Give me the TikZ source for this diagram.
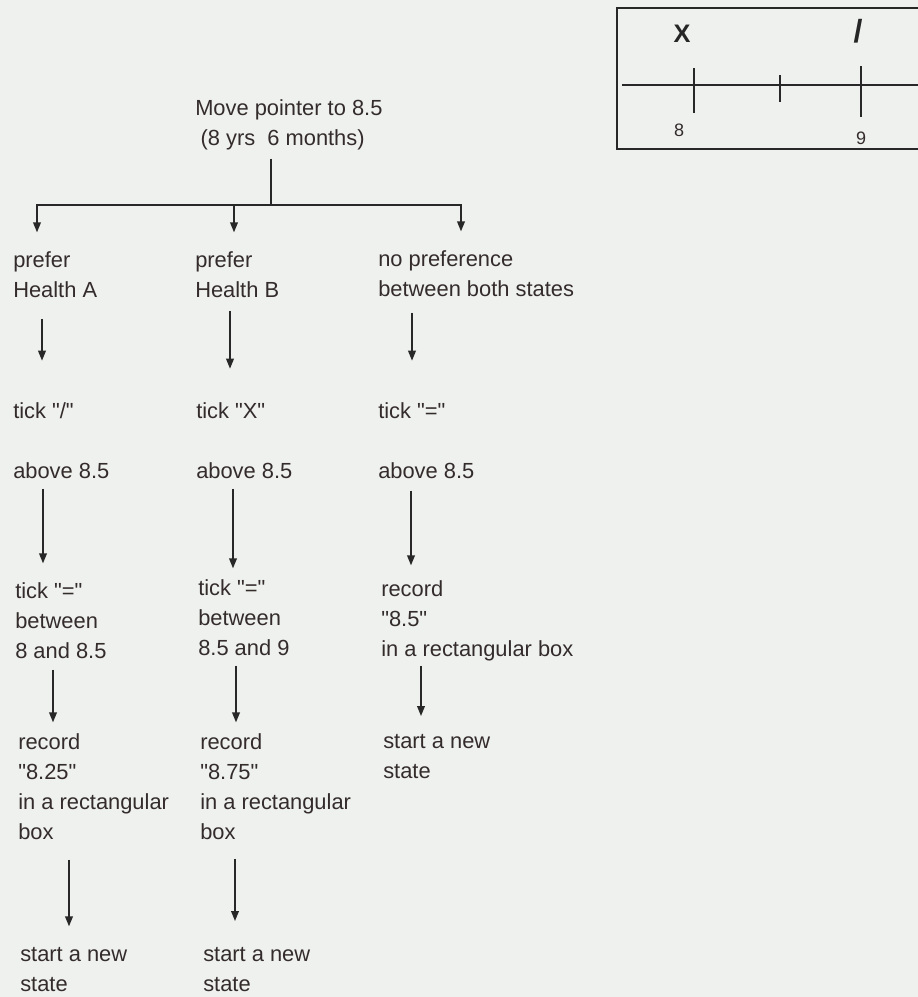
\documentclass[tikz,border=0pt]{standalone}
\usepackage{fontspec}
% plain family without the TeX quote mapping, so " stays straight
\newfontfamily\arialfont{Liberation Sans}
\usetikzlibrary{arrows.meta,calc}
\definecolor{paper}{RGB}{238,241,237}
\definecolor{ink}{RGB}{52,44,44}
\definecolor{wire}{RGB}{40,40,40}
% fixed first-line height and last-line depth, so anchors sit at known baselines
\newcommand{\hstrut}{\rule{0pt}{12pt}}
\newcommand{\dstrut}{\rule[-4pt]{0pt}{4pt}}
\begin{document}
\begin{tikzpicture}[x=0.75pt,y=-0.75pt,
  txt/.style={anchor=north west,inner sep=0pt,align=left,
    font=\arialfont\fontsize{16.4pt}{22.5pt}\selectfont,text=ink},
  link/.style={draw=wire,line width=1.1pt},
  arr/.style={link,-{Triangle[width=5.8pt,length=7.5pt]}},
  scalelbl/.style={inner sep=0pt,text=ink,font=\arialfont\fontsize{13.5pt}{13.5pt}\selectfont},
  tickmark/.style={inner sep=0pt,text=black!85,font=\arialfont\fontsize{19pt}{19pt}\selectfont\bfseries}]
\fill[paper] (0,0) rectangle (918,997);
\useasboundingbox (0,0) rectangle (918,997);

% ---- scale sketch (top right) ----
\draw[link,line width=1pt] (918,8) -- (617,8) -- (617,149) -- (918,149);
\draw[link,line width=1pt] (622,85) -- (918,85);
\draw[link,line width=1pt] (694,68) -- (694,113);
\draw[link,line width=1pt] (780,75) -- (780,102);
\draw[link,line width=1pt] (861,66) -- (861,117);
\node[tickmark] (mx) at (682,34) {X};
\node[tickmark,font=\arialfont\fontsize{24pt}{24pt}\selectfont\bfseries] (ms) at (858,31) {/};
\node[scalelbl] (l8) at (679,130) {8};
\node[scalelbl] (l9) at (861,138) {9};

% ---- flow ----
\node[txt] (top) at (195,99) {\hstrut Move pointer to 8.5\\\hspace*{4pt}(8 yrs\ \ 6 months)\dstrut};

\node[txt] (a1) at (13,251) {\hstrut prefer\\Health A\dstrut};
\node[txt] (b1) at (195,251) {\hstrut prefer\\Health B\dstrut};
\node[txt] (c1) at (378,250) {\hstrut no preference\\between both states\dstrut};

\node[txt] (a2) at (13,402) {\hstrut tick "/"\\[22.5pt]above 8.5\dstrut};
\node[txt] (b2) at (196,402) {\hstrut tick "X"\\[22.5pt]above 8.5\dstrut};
\node[txt] (c2) at (378,402) {\hstrut tick "="\\[22.5pt]above 8.5\dstrut};

\node[txt] (a3) at (15,582) {\hstrut tick "="\\between\\8 and 8.5\dstrut};
\node[txt] (b3) at (198,579) {\hstrut tick "="\\between\\8.5 and 9\dstrut};
\node[txt] (c3) at (381,580) {\hstrut record\\"8.5"\\in a rectangular box\dstrut};

\node[txt] (a4) at (18,733) {\hstrut record\\"8.25"\\in a rectangular\\box\dstrut};
\node[txt] (b4) at (200,733) {\hstrut record\\"8.75"\\in a rectangular\\box\dstrut};
\node[txt] (c4) at (383,732) {\hstrut start a new\\state\dstrut};

\node[txt] (a5) at (20,945) {\hstrut start a new\\state\dstrut};
\node[txt] (b5) at (203,945) {\hstrut start a new\\state\dstrut};

% branching from the top node
\coordinate (split) at (271,205);
\coordinate (bj) at (234,205);
\draw[link,shorten <=5.8pt] (top.south -| split) -- (split);
\draw[arr,shorten >=14pt] (split) -| (a1.north -| 37,0);
\draw[arr,shorten >=14pt] (split) -| (c1.north -| 461,0);
\draw[arr,shorten >=14pt] (bj) -- (b1.north -| bj);

% column A
\draw[arr,shorten <=12pt,shorten >=31pt] (a1.south -| 42,0) -- (a2.north -| 42,0);
\draw[arr,shorten <=3.5pt,shorten >=14pt] (a2.south -| 43,0) -- (a3.north -| 43,0);
\draw[arr,shorten <=4.3pt,shorten >=8pt] (a3.south -| 53,0) -- (a4.north -| 53,0);
\draw[arr,shorten <=11pt,shorten >=14pt] (a4.south -| 69,0) -- (a5.north -| 69,0);

% column B
\draw[arr,shorten <=6pt,shorten >=25pt] (b1.south -| 230,0) -- (b2.north -| 230,0);
\draw[arr,shorten <=3.5pt,shorten >=8pt] (b2.south -| 233,0) -- (b3.north -| 233,0);
\draw[arr,shorten <=3.5pt,shorten >=8pt] (b3.south -| 236,0) -- (b4.north -| 236,0);
\draw[arr,shorten <=10.5pt,shorten >=18pt] (b4.south -| 235,0) -- (b5.north -| 235,0);

% column C
\draw[arr,shorten <=8pt,shorten >=31pt] (c1.south -| 412,0) -- (c2.north -| 412,0);
\draw[arr,shorten <=5pt,shorten >=11pt] (c2.south -| 411,0) -- (c3.north -| 411,0);
\draw[arr,shorten <=2.8pt,shorten >=12pt] (c3.south -| 421,0) -- (c4.north -| 421,0);
\end{tikzpicture}
\end{document}
